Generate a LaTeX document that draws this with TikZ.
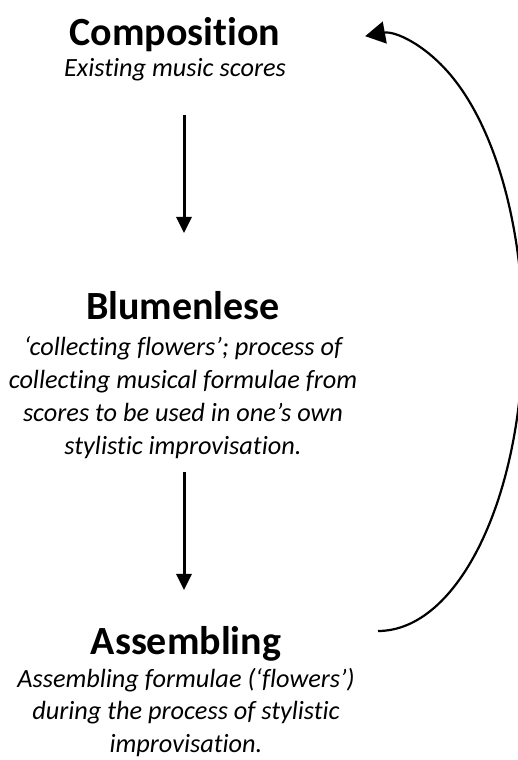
\documentclass[tikz,border=0pt]{standalone}
\usepackage{fontspec}
\setmainfont[Ligatures=NoCommon]{Carlito}
\usetikzlibrary{arrows.meta}
\tikzset{
  title/.style={font=\fontsize{40}{48}\selectfont\bfseries, inner sep=0pt, anchor=base},
  desc/.style={font=\fontsize{26.3}{33}\selectfont\itshape, inner sep=0pt, anchor=base, align=center},
  vflow/.style={line width=3pt, -{Triangle[length=16pt,width=15pt]}},
  loopback/.style={line width=2.2pt, -{Triangle[length=20pt,width=22pt]}}
}
\begin{document}
\begin{tikzpicture}[x=1pt,y=1pt]
\useasboundingbox (0,0) rectangle (517,760);
% titles and descriptions (y = 760 - pixel row); multi-line nodes sit on their last baseline
\node[title] (comp) at (175,714) {Composition};
\node[desc] (compd) at (175,683) {Existing music scores};
\node[title] (blum) at (183,440) {Blumenlese};
\node[desc] (blumd) at (183,305) {‘collecting flowers’; process of\\collecting musical formulae from\\scores to be used in one’s own\\stylistic improvisation.};
\node[title] (asm) at (186,105) {Assembling};
\node[desc, font=\fontsize{26.3}{32}\selectfont\itshape] (asmd) at (186,8) {Assembling formulae (‘flowers’)\\during the process of stylistic\\improvisation.};
% vertical arrows
\coordinate (a1s) at (184,645);
\coordinate (a1e) at (184,527);
\coordinate (a2s) at (184,288);
\coordinate (a2e) at (184,170);
\draw[vflow] (a1s) -- (a1e);
\draw[vflow] (a2s) -- (a2e);
% loop back arrow
\coordinate (cs) at (378,129);
\draw[loopback] (cs) arc[start angle=-90, end angle=95.1, x radius=145, y radius=298];
\end{tikzpicture}
\end{document}
